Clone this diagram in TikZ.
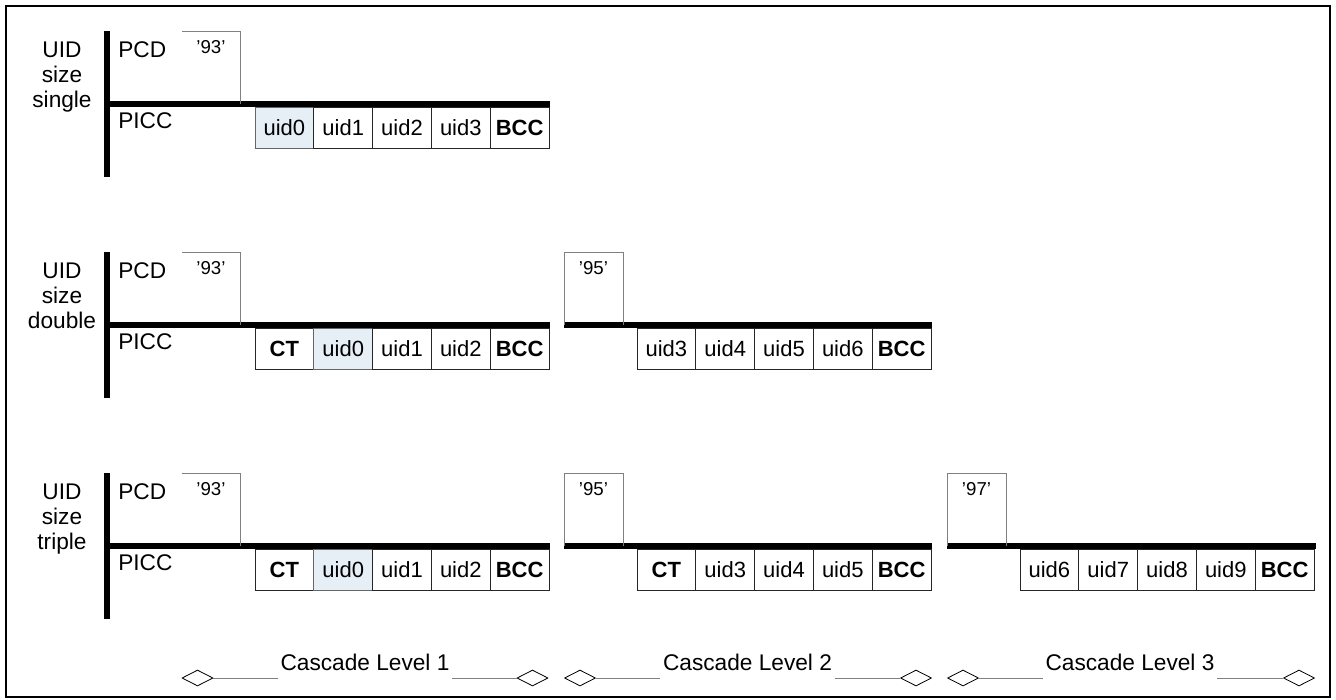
\documentclass[tikz,border=0pt]{standalone}
\usepackage{fontspec}
\setmainfont{Liberation Sans}
\usetikzlibrary{shapes.geometric}
\definecolor{uidblue}{RGB}{230,238,246}

\begin{document}
\begin{tikzpicture}[x=0.75pt, y=-0.75pt, node distance=44.1pt,
    cell/.style = {draw=black!85, line width=0.75pt, minimum width=44.1pt, minimum height=30.75pt, inner sep=0pt, font=\fontsize{16.5}{19}\selectfont},
    bluecell/.style = {cell, fill=uidblue, draw=black!60},
    boldcell/.style = {cell, font=\fontsize{16.5}{19}\selectfont\bfseries},
    hdrtag/.style = {font=\fontsize{14}{17}\selectfont, anchor=base, inner sep=0pt},
    rowlabel/.style = {font=\fontsize{17}{20}\selectfont, anchor=base west, inner sep=0pt},
    sizelabel/.style = {font=\fontsize{17}{18.75}\selectfont, align=center, anchor=north, inner sep=0pt},
    thickbar/.style = {line width=4.5pt},
    hdr/.style = {draw=gray, line width=0.75pt},
    dmd/.style = {draw, shape=diamond, fill=white, line width=0.6pt, minimum width=23.25pt, minimum height=12pt, inner sep=0pt},
    lvltext/.style = {font=\fontsize{17}{20}\selectfont, anchor=base, inner sep=2pt},
    lvlline/.style = {draw=gray, line width=0.75pt}]
        \useasboundingbox (0,0) rectangle (1336,700);
        \draw[line width=1.5pt] (6,6) rectangle (1330,697);

        % single
        \node[sizelabel] (size1) at (62,42) {UID\\size\\single};
        \draw[thickbar] (107,31) -- (107,177);
        \draw[thickbar] (107,104) -- (550,104);
        \draw[hdr] (182,31) -- (240,31) -- (240,104);
        \node[hdrtag] (sel1) at (211,53) {'93'};
        \node[rowlabel] (pcd1) at (118,57) {PCD};
        \node[rowlabel] (picc1) at (118,128) {PICC};
        \node[bluecell] (s0) at (284.4,127.5) {uid0};
        \node[cell] (s1) [right of=s0] {uid1};
        \node[cell] (s2) [right of=s1] {uid2};
        \node[cell] (s3) [right of=s2] {uid3};
        \node[boldcell] (sbcc) [right of=s3] {BCC};

        % double
        \node[sizelabel] (size2) at (62,263) {UID\\size\\double};
        \draw[thickbar] (107,252) -- (107,398);
        \draw[thickbar] (107,325) -- (550,325);
        \draw[thickbar] (564,325) -- (932,325);
        \draw[hdr] (182,252) -- (240,252) -- (240,325);
        \draw[hdr] (564,325) -- (564,252) -- (623,252) -- (623,325);
        \node[hdrtag] (sel2) at (211,274) {'93'};
        \node[hdrtag] (sel2b) at (593.5,274) {'95'};
        \node[rowlabel] (pcd2) at (118,278) {PCD};
        \node[rowlabel] (picc2) at (118,349) {PICC};
        \node[boldcell] (dct) at (284.4,348.5) {CT};
        \node[bluecell] (d0) [right of=dct] {uid0};
        \node[cell] (d1) [right of=d0] {uid1};
        \node[cell] (d2) [right of=d1] {uid2};
        \node[boldcell] (dbcc) [right of=d2] {BCC};
        \node[cell] (d3) at (666.4,348.5) {uid3};
        \node[cell] (d4) [right of=d3] {uid4};
        \node[cell] (d5) [right of=d4] {uid5};
        \node[cell] (d6) [right of=d5] {uid6};
        \node[boldcell] (dbcc2) [right of=d6] {BCC};

        % triple
        \node[sizelabel] (size3) at (62,484) {UID\\size\\triple};
        \draw[thickbar] (107,473) -- (107,619);
        \draw[thickbar] (107,546) -- (550,546);
        \draw[thickbar] (564,546) -- (932,546);
        \draw[thickbar] (947,546) -- (1316,546);
        \draw[hdr] (182,473) -- (240,473) -- (240,546);
        \draw[hdr] (564,546) -- (564,473) -- (623,473) -- (623,546);
        \draw[hdr] (947,546) -- (947,473) -- (1006,473) -- (1006,546);
        \node[hdrtag] (sel3) at (211,495) {'93'};
        \node[hdrtag] (sel3b) at (593.5,495) {'95'};
        \node[hdrtag] (sel3c) at (976.5,495) {'97'};
        \node[rowlabel] (pcd3) at (118,499) {PCD};
        \node[rowlabel] (picc3) at (118,570) {PICC};
        \node[boldcell] (tct) at (284.4,569.5) {CT};
        \node[bluecell] (t0) [right of=tct] {uid0};
        \node[cell] (t1) [right of=t0] {uid1};
        \node[cell] (t2) [right of=t1] {uid2};
        \node[boldcell] (tbcc) [right of=t2] {BCC};
        \node[boldcell] (tct2) at (666.4,569.5) {CT};
        \node[cell] (t3) [right of=tct2] {uid3};
        \node[cell] (t4) [right of=t3] {uid4};
        \node[cell] (t5) [right of=t4] {uid5};
        \node[boldcell] (tbcc2) [right of=t5] {BCC};
        \node[cell] (t6) at (1049.4,569.5) {uid6};
        \node[cell] (t7) [right of=t6] {uid7};
        \node[cell] (t8) [right of=t7] {uid8};
        \node[cell] (t9) [right of=t8] {uid9};
        \node[boldcell] (tbcc3) [right of=t9] {BCC};

        % cascade levels
        \node[dmd] (l1a) at (197.5,678) {};
        \node[dmd] (l1b) at (532.5,678) {};
        \node[lvltext] (l1) at (365,670) {Cascade Level 1};
        \node[dmd] (l2a) at (580,678) {};
        \node[dmd] (l2b) at (916,678) {};
        \node[lvltext] (l2) at (747.5,670) {Cascade Level 2};
        \node[dmd] (l3a) at (963,678) {};
        \node[dmd] (l3b) at (1299,678) {};
        \node[lvltext] (l3) at (1130,670) {Cascade Level 3};
        \draw[lvlline] (l1a) -- (l1a -| l1.west);
        \draw[lvlline] (l1.east |- l1b) -- (l1b);
        \draw[lvlline] (l2a) -- (l2a -| l2.west);
        \draw[lvlline] (l2.east |- l2b) -- (l2b);
        \draw[lvlline] (l3a) -- (l3a -| l3.west);
        \draw[lvlline] (l3.east |- l3b) -- (l3b);
\end{tikzpicture}
\end{document}
